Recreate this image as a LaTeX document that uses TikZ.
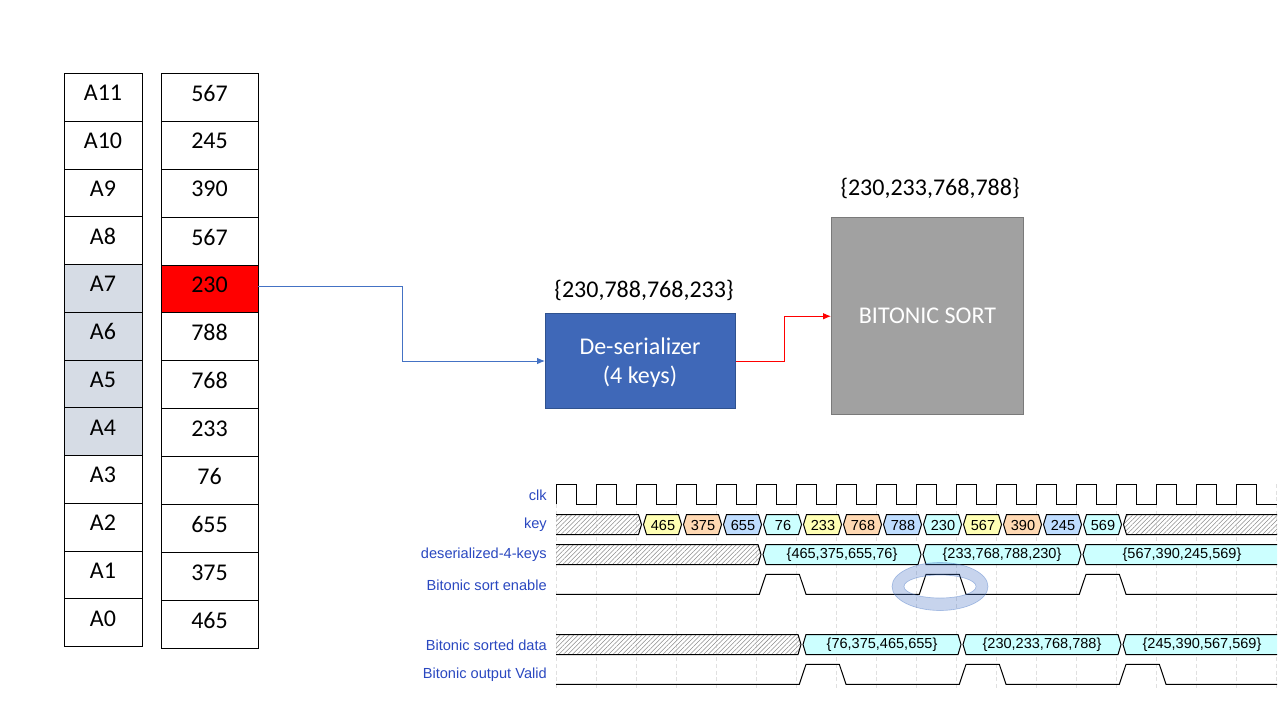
\documentclass[tikz,border=0pt]{standalone}
\usepackage{fontspec}
\setmainfont{Carlito}
\newfontfamily\wavefont{Liberation Sans}
\usetikzlibrary{arrows.meta,patterns.meta,calc}
\definecolor{wblue}{HTML}{2A48C0}
\definecolor{cyanbus}{HTML}{CCFFFF}
\definecolor{yelbus}{HTML}{FFFFB4}
\definecolor{orabus}{HTML}{FFD9B3}
\definecolor{blubus}{HTML}{BFDDFF}
\definecolor{tblgrey}{HTML}{D6DCE5}
\definecolor{boxblue}{HTML}{3F68B8}
\definecolor{boxedge}{HTML}{2F528F}
\definecolor{linkblue}{HTML}{4472C4}
\definecolor{ringblue}{HTML}{4472C4}
\tikzset{
  cellbox/.style={draw=black,line width=.75pt,minimum width=#1,inner sep=0pt,outer sep=0pt},
  celltext/.style={font=\fontsize{18}{20}\selectfont,inner sep=0pt,text=black},
  wavelabel/.style={font=\wavefont\fontsize{10.95}{12}\selectfont,text=wblue,anchor=east,inner sep=0pt},
  bustext/.style={font=\wavefont\fontsize{10.9}{12}\selectfont,text=black,inner sep=0pt},
  wave/.style={draw=black,line width=.75pt,line join=miter},
  gridline/.style={draw=black!12,line width=.5pt,densely dashed},
  hatched/.style={pattern={Lines[angle=45,distance=2.4pt,line width=.4pt]},pattern color=black!45},
  plainbig/.style={font=\fontsize{18}{20}\selectfont,inner sep=0pt},
  boxtext/.style={font=\fontsize{18}{22}\selectfont,text=white,align=center,inner sep=0pt},
  link/.style={line width=.75pt,-{Latex[length=6pt,width=5pt]}}
}
% closed hexagon: crossings c1,c2; top y
\newcommand{\hexbus}[4]{%
  \path[#4] (#1+1,#3+10)--(#1+4,#3)--(#2-4,#3)--(#2-1,#3+10)--(#2-4,#3+20)--(#1+4,#3+20)--cycle;
  \draw[wave] (#1+1,#3+10)--(#1+4,#3)--(#2-4,#3)--(#2-1,#3+10)--(#2-4,#3+20)--(#1+4,#3+20)--cycle;}
% open on the left at x=556
\newcommand{\lefthatch}[2]{%
  \path[hatched] (556,#2)--(#1-4,#2)--(#1-1,#2+10)--(#1-4,#2+20)--(556,#2+20)--cycle;
  \draw[wave] (556,#2)--(#1-4,#2)--(#1-1,#2+10)--(#1-4,#2+20)--(556,#2+20);}
% open on the right at x=1277
\newcommand{\rightbus}[3]{%
  \path[#3] (1277,#2)--(#1+4,#2)--(#1+1,#2+10)--(#1+4,#2+20)--(1277,#2+20)--cycle;
  \draw[wave] (1277,#2)--(#1+4,#2)--(#1+1,#2+10)--(#1+4,#2+20)--(1277,#2+20);}
\begin{document}
\begin{tikzpicture}[x=.75pt,y=-.75pt]
\useasboundingbox (0,0) rectangle (1280,720);
% --- tables
\foreach \t/\i/\f in {A11/0/white,A10/1/white,A9/2/white,A8/3/white,A7/4/tblgrey,A6/5/tblgrey,A5/6/tblgrey,A4/7/tblgrey,A3/8/white,A2/9/white,A1/10/white,A0/11/white}{
  \node[cellbox=58.5pt,minimum height=35.8pt,fill=\f] (a\i) at (103,{97.4+47.75*\i}) {};
  \node[celltext] (ta\i) at ([yshift=3.2pt]a\i.center) {\t};
}
\foreach \t/\i/\f in {567/0/white,245/1/white,390/2/white,567/3/white,230/4/red,788/5/white,768/6/white,233/7/white,76/8/white,655/9/white,375/10/white,465/11/white}{
  \node[cellbox=72.75pt,minimum height=35.93pt,fill=\f] (v\i) at (209.5,{97.45+47.9*\i}) {};
  \node[celltext] (tv\i) at ([yshift=3.1pt]v\i.center) {\t};
}
% --- blocks
\node[draw=boxedge,line width=.75pt,fill=boxblue,inner sep=0pt,minimum width=142.5pt,minimum height=71.25pt] (de) at (640.5,361) {};
\node[boxtext] (detext) at (640,362.5) {De-serializer\\(4 keys)};
\node[draw=black!52,line width=.75pt,fill=black!37,inner sep=0pt,minimum width=144pt,minimum height=148.1pt] (bs) at (927.5,316.25) {};
\node[font=\fontsize{18}{20}\selectfont,text=white,inner sep=0pt] (bstext) at (927.5,316) {BITONIC SORT};
\node[plainbig] (lab1) at (644,290) {\{230,788,768,233\}};
\node[plainbig] (lab2) at (930,188) {\{230,233,768,788\}};
\draw[link,draw=linkblue] ([yshift=2.2pt]v4.east) -- ++(144.5,0) |- (de.west);
\draw[link,draw=red] (de.east) -- ++(48,0) |- (bs.west);
% --- grid
\foreach \k in {0,...,18}{ \draw[gridline] ({556+40*\k},484) -- ({556+40*\k},690); }
% --- labels
\node[wavelabel] (l1) at (547,495) {clk};
\node[wavelabel] (l2) at (547,525) {key};
\node[wavelabel] (l3) at (547,555) {deserialized-4-keys};
\node[wavelabel] (l4) at (547,585) {Bitonic sort enable};
\node[wavelabel] (l5) at (547,645) {Bitonic sorted data};
\node[wavelabel] (l6) at (547,675) {Bitonic output Valid};
% --- clk
\draw[wave] (556,504.3) \foreach \k in {0,...,17}{ -- ({556+40*\k},484.3) -- ({576+40*\k},484.3) -- ({576+40*\k},504.3) -- ({596+40*\k},504.3) } -- (1277,504.3);
% --- key row
\lefthatch{642.5}{514.5}
\foreach \c/\t/\f in {642.5/465/yelbus,682.5/375/orabus,722.5/655/blubus,762.5/76/cyanbus,802.5/233/yelbus,842.5/768/orabus,882.5/788/blubus,922.5/230/cyanbus,962.5/567/yelbus,1002.5/390/orabus,1042.5/245/blubus,1082.5/569/cyanbus}{
  \hexbus{\c}{\c+40}{514.5}{fill=\f}
  \node[bustext] (k\t) at (\c+20.5,525) {\t};
}
\rightbus{1122.5}{514.5}{hatched}
% --- deserialized row
\lefthatch{762}{544.5}
\hexbus{762}{922}{544.5}{fill=cyanbus}
\hexbus{922}{1082}{544.5}{fill=cyanbus}
\rightbus{1082}{544.5}{fill=cyanbus}
\node[bustext] (d1) at (842,555) {\{465,375,655,76\}};
\node[bustext] (d2) at (1002,555) {\{233,768,788,230\}};
\node[bustext] (d3) at (1182,555) {\{567,390,245,569\}};
% --- enable
\draw[wave] (556,594.3) -- (759.3,594.3) -- (766,574.3) -- (799.3,574.3) -- (806,594.3) -- (919.3,594.3) -- (926,574.3) -- (959.3,574.3) -- (966,594.3) -- (1079.3,594.3) -- (1086,574.3) -- (1119.3,574.3) -- (1126,594.3) -- (1277,594.3);
% --- sorted data
\lefthatch{802}{634.5}
\hexbus{802}{962}{634.5}{fill=cyanbus}
\hexbus{962}{1122}{634.5}{fill=cyanbus}
\rightbus{1122}{634.5}{fill=cyanbus}
\node[bustext] (s1) at (882,645) {\{76,375,465,655\}};
\node[bustext] (s2) at (1042,645) {\{230,233,768,788\}};
\node[bustext] (s3) at (1202,645) {\{245,390,567,569\}};
% --- valid
\draw[wave] (556,684.3) -- (799.3,684.3) -- (806,664.3) -- (839.3,664.3) -- (846,684.3) -- (959.3,684.3) -- (966,664.3) -- (999.3,664.3) -- (1006,684.3) -- (1119.3,684.3) -- (1126,664.3) -- (1159.3,664.3) -- (1166,684.3) -- (1277,684.3);
% --- highlight ring
\path[even odd rule,fill=ringblue,fill opacity=.3,draw=ringblue,draw opacity=.4,line width=.5pt]
  (940,586.5) ellipse [x radius=48,y radius=24] (940,586.5) ellipse [x radius=36,y radius=11.5];
\end{tikzpicture}
\end{document}
